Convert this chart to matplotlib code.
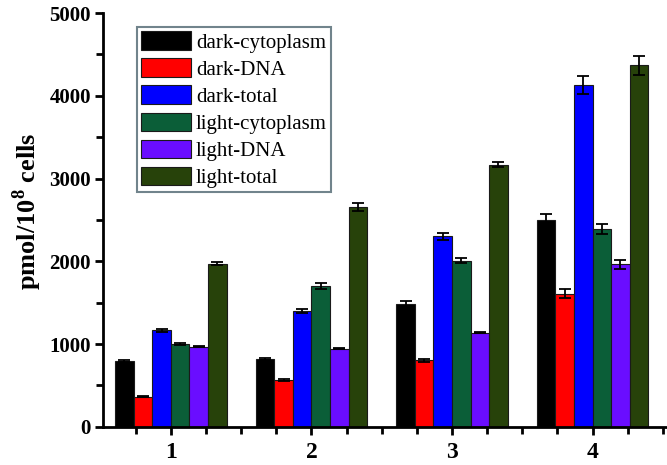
import numpy as np
import matplotlib
matplotlib.use("Agg")
import matplotlib.pyplot as plt
from matplotlib.ticker import MultipleLocator

plt.rcParams['font.family'] = ['Liberation Serif', 'DejaVu Serif']
plt.rcParams['mathtext.fontset'] = 'custom'
plt.rcParams['mathtext.rm'] = 'Liberation Serif'
plt.rcParams['mathtext.bf'] = 'Liberation Serif:bold'

groups = [1, 2, 3, 4]
series = ['dark-cytoplasm', 'dark-DNA', 'dark-total',
          'light-cytoplasm', 'light-DNA', 'light-total']
values = [
    [795, 820, 1490, 2505],    # dark-cytoplasm
    [365, 565, 805, 1610],     # dark-DNA
    [1165, 1400, 2300, 4135],  # dark-total
    [1005, 1700, 2010, 2395],  # light-cytoplasm
    [970, 945, 1140, 1965],    # light-DNA
    [1970, 2655, 3165, 4370],  # light-total
]
errors = [
    [10, 15, 25, 65],
    [10, 15, 20, 50],
    [15, 20, 40, 110],
    [10, 40, 25, 60],
    [10, 10, 5, 55],
    [20, 50, 30, 115],
]
colors = ['#000000', '#ff0000', '#0000ff', '#0b5e38', '#6a0dff', '#27420a']

fig = plt.figure(figsize=(6.67, 4.65), dpi=100)
ax = fig.add_axes([0.155, 0.082, 0.845, 0.890])

w = 0.132
x = np.array(groups, dtype=float)
for i, name in enumerate(series):
    pos = x + (i - 2.5) * w
    ax.bar(pos, values[i], width=w, color=colors[i], edgecolor='#1a1a1a',
           linewidth=0.8, label=name, zorder=2)
    ax.errorbar(pos, values[i], yerr=errors[i], fmt='none', ecolor='black',
                elinewidth=1.3, capsize=4, capthick=1.3, zorder=3)

ax.set_xlim(0.52, 4.53)
ax.set_ylim(0, 5000)
ax.spines['top'].set_visible(False)
ax.spines['right'].set_visible(False)
for s in ['left', 'bottom']:
    ax.spines[s].set_linewidth(2)

ax.xaxis.set_major_locator(MultipleLocator(1))
ax.xaxis.set_minor_locator(MultipleLocator(0.25))
ax.yaxis.set_major_locator(MultipleLocator(1000))
ax.yaxis.set_minor_locator(MultipleLocator(500))
ax.tick_params(which='major', direction='out', length=6, width=2)
ax.tick_params(which='minor', direction='out', length=5, width=2)
ax.tick_params(axis='y', labelsize=15, pad=3)
ax.tick_params(axis='x', labelsize=17, pad=5)
for lab in ax.get_xticklabels() + ax.get_yticklabels():
    lab.set_fontweight('bold')

ax.set_ylabel(r'pmol/10$^{\mathbf{8}}$ cells', fontsize=19, fontweight='bold')
ax.yaxis.set_label_coords(-0.105, 0.52)

leg = ax.legend(loc='upper left', bbox_to_anchor=(0.059, 0.966), fontsize=15,
                frameon=True, fancybox=False, handlelength=2.4,
                handleheight=1.0, handletextpad=0.25, labelspacing=0.27,
                borderpad=0.2, borderaxespad=0)
leg.get_frame().set_edgecolor('#4d6670')
leg.get_frame().set_linewidth(1.5)

fig.savefig('out.png', dpi=100)
